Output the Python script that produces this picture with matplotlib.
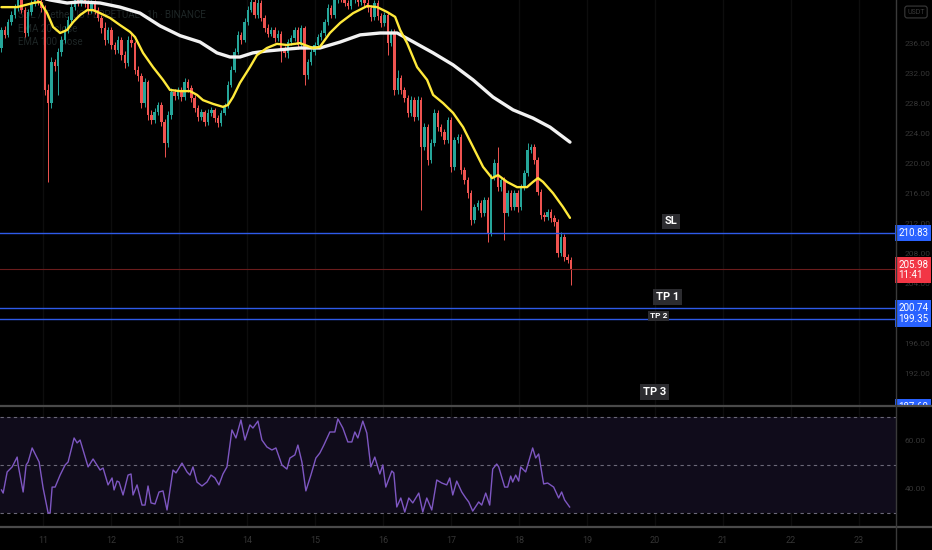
import matplotlib
matplotlib.use("Agg")
import matplotlib.pyplot as plt
import numpy as np
from matplotlib.lines import Line2D
from matplotlib.transforms import Bbox

plt.rcParams['font.family'] = ['Roboto', 'DejaVu Sans']

# ---------------- data ----------------
first_open = 235.45
closes = [
    237.85, 237.2, 238.9, 239.85, 240.8, 242.1, 240.5, 237.45, 240.25, 241.3,
    242.25, 241.6, 240.8, 229.85, 228.1, 233.6, 233.05, 234.9, 236.5, 237.85,
    239.2, 240.9, 242.1, 241.45, 242.1, 241.45, 240.5, 241.45, 240.5, 239.45,
    238.1, 236.5, 237.85, 235.85, 235.2, 236.5, 234.5, 233.45, 236.5, 236.1,
    232.5, 231.7, 228.1, 230.9, 226.5, 225.85, 226.9, 227.85, 225.6, 222.8,
    226.5, 229.6, 229.05, 229.85, 228.9, 230.9, 230.1, 228.8, 227.45, 226.25,
    226.9, 225.6, 226.8, 227.2, 226.1, 225.45, 226.8, 227.7, 230.5, 232.5,
    234.9, 237.2, 236.5, 238.9, 240.5, 241.6, 239.85, 241.45, 239.45, 238.1,
    237.3, 237.85, 236.8, 237.3, 235.2, 234.8, 236.25, 236.8, 237.85, 235.85,
    238.1, 231.85, 233.6, 234.9, 235.85, 236.9, 237.45, 238.9, 240.8, 239.85,
    241.85, 242.5, 242.1, 241.45, 241.05, 241.85, 242.4, 241.6, 242.25, 241.45,
    240.8, 239.6, 241.45, 239.7, 238.8, 239.85, 236.1, 237.6, 229.85, 231.45,
    229.85, 228.8, 226.8, 228.5, 226.25, 228.5, 222.25, 224.9, 220.5, 222.8,
    226.8, 224.9, 224.25, 223.2, 225.85, 219.6, 223.2, 223.6, 219.2, 217.85,
    216.1, 212.5, 214.25, 214.8, 213.45, 215.2, 210.8, 218.25, 220.1, 216.9,
    217.85, 213.45, 216.1, 214.25, 216.1, 214.25, 216.9, 218.8, 221.85, 222.25,
    220.5, 216.25, 213.2, 212.9, 213.6, 212.8, 212.25, 208.1, 210.25, 207.6,
    207.2, 205.98]
highs = [
    238.3, 238.4, 239.3, 240.4, 241.3, 242.6, 242.5, 240.9, 240.7, 241.8,
    242.8, 242.7, 242.0, 241.2, 230.6, 234.2, 234.0, 235.4, 237.0, 238.4,
    239.7, 241.4, 242.6, 242.7, 242.6, 242.5, 241.9, 241.9, 241.8, 240.9,
    239.8, 238.9, 238.3, 238.2, 236.3, 237.0, 236.9, 235.0, 237.0, 237.4,
    236.4, 233.0, 232.1, 231.4, 231.2, 227.2, 227.4, 228.3, 228.2, 226.0,
    227.0, 230.1, 230.0, 230.3, 230.2, 231.5, 231.3, 230.5, 229.2, 227.8,
    227.3, 227.2, 227.3, 227.6, 227.5, 226.5, 227.2, 228.1, 231.0, 233.0,
    235.4, 237.7, 237.6, 239.4, 241.0, 242.3, 242.9, 242.3, 241.8, 239.8,
    238.6, 238.3, 238.2, 237.8, 237.7, 235.7, 236.7, 237.2, 238.3, 238.2,
    238.5, 238.4, 234.0, 235.3, 236.3, 237.3, 237.9, 239.3, 241.3, 241.2,
    242.4, 243.0, 242.9, 242.5, 241.9, 242.3, 242.9, 242.8, 242.7, 242.6,
    242.2, 241.2, 241.9, 241.8, 240.1, 240.3, 240.2, 238.0, 238.0, 232.5,
    231.9, 230.3, 229.2, 229.0, 228.9, 229.0, 228.9, 225.4, 225.3, 223.3,
    227.3, 227.2, 225.3, 224.6, 226.3, 226.2, 223.6, 224.0, 224.0, 219.6,
    218.3, 216.5, 214.7, 215.2, 215.2, 215.6, 215.6, 218.7, 220.6, 222.25,
    218.3, 218.2, 216.5, 216.5, 216.5, 216.5, 217.3, 219.2, 222.8, 222.6,
    222.6, 220.9, 216.6, 213.6, 214.0, 214.0, 213.2, 212.6, 210.9, 210.6,
    208.0, 207.6]
lows = [
    234.9, 236.8, 236.9, 238.5, 239.5, 240.4, 240.1, 236.9, 237.0, 239.9,
    241.0, 241.2, 240.3, 229.2, 217.6, 227.5, 232.4, 229.2, 234.4, 236.1,
    237.5, 238.8, 240.5, 241.0, 241.1, 240.9, 240.0, 240.1, 240.0, 239.0,
    237.5, 235.9, 236.1, 235.3, 234.6, 234.8, 233.9, 232.8, 233.0, 235.6,
    232.0, 231.1, 227.4, 227.6, 225.9, 225.3, 225.4, 226.5, 225.0, 220.9,
    222.3, 226.0, 228.5, 228.7, 228.4, 228.5, 229.6, 228.3, 226.9, 225.7,
    225.8, 225.0, 225.2, 226.4, 225.6, 224.9, 225.1, 226.5, 227.4, 230.2,
    232.2, 234.6, 236.0, 236.2, 238.5, 240.2, 239.4, 239.5, 239.0, 237.6,
    236.9, 237.0, 236.3, 236.4, 233.6, 234.2, 234.1, 235.9, 236.4, 235.3,
    235.4, 230.5, 231.3, 233.2, 234.5, 235.5, 236.5, 237.1, 238.5, 239.4,
    239.5, 241.4, 241.6, 241.0, 240.6, 240.7, 241.5, 241.1, 241.2, 241.0,
    240.3, 239.1, 239.2, 239.2, 238.3, 238.4, 234.5, 235.7, 229.2, 229.3,
    229.3, 228.2, 226.2, 226.4, 225.7, 225.9, 213.85, 221.8, 219.9, 220.1,
    222.4, 224.4, 223.7, 222.6, 222.8, 218.9, 219.2, 222.8, 218.6, 217.3,
    215.5, 211.9, 212.1, 213.8, 212.9, 213.0, 209.6, 210.4, 217.9, 216.4,
    216.4, 209.85, 213.0, 213.8, 213.8, 213.6, 213.9, 216.5, 218.4, 221.4,
    220.0, 215.8, 212.7, 212.4, 212.5, 212.3, 211.7, 207.6, 207.7, 207.1,
    206.8, 203.85]

ema_fast_x = [0, 4.7, 9.5, 11.6, 13.7, 15.5, 17.6, 19.7, 21.5, 23.6, 25.7, 27.5, 29.6, 32.6,
              35.6, 38.6, 40.1, 42.5, 45.5, 48.5, 50.6, 53.6, 56.6, 58.7, 60.5, 63.5, 66.5,
              68.0, 69.5, 71.6, 74.6, 76.7, 79.7, 82.7, 85.7, 89.6, 93.5, 95.6, 98.6, 101.7,
              105.6, 109.8, 112.8, 115.8, 118.2, 119.7, 121.8, 124.8, 127.8, 129.6, 132.6,
              135.6, 138.6, 141.6, 144.6, 147.3, 149.1, 151.8, 154.8, 157.8, 159.6, 161.1,
              162.6, 165.6, 168.6, 170.7]
ema_fast_y = [240.9, 240.9, 241.45, 241.6, 240.1, 238.25, 237.45, 237.85, 238.9, 239.85, 240.5,
              240.5, 240.1, 239.45, 238.5, 237.6, 236.9, 234.8, 232.9, 231.2, 229.85, 229.7,
              229.7, 229.2, 228.5, 228.0, 227.6, 227.85, 228.9, 230.8, 232.9, 234.5, 235.45,
              236.0, 235.85, 236.1, 235.45, 235.6, 237.45, 238.8, 240.1, 241.05, 240.9, 240.25,
              239.6, 237.85, 236.1, 232.9, 231.2, 229.2, 228.1, 226.8, 224.9, 222.25, 219.6,
              218.1, 218.5, 217.6, 216.9, 216.9, 217.6, 218.1, 217.6, 216.1, 214.25, 212.8]

ema_slow_x = [0, 7.1, 14.6, 19.7, 23.6, 29.6, 35.6, 41.6, 47.6, 53.6, 59.6, 64.7, 68.6, 71.6,
              75.5, 79.7, 85.7, 89.6, 95.6, 101.7, 107.7, 113.7, 118.8, 122.7, 129.6, 135.6,
              141.6, 147.6, 153.6, 159.6, 164.7, 170.7]
ema_slow_y = [243.85, 242.65, 241.85, 241.45, 241.6, 241.45, 240.9, 240.1, 238.4, 237.1, 236.25,
              234.8, 234.25, 234.25, 234.8, 235.05, 235.3, 235.45, 235.45, 236.25, 237.2, 237.45,
              237.45, 236.5, 234.8, 233.2, 231.2, 228.9, 227.2, 226.1, 224.9, 222.9]

rsi_x = [0, 0.5, 1.7, 3.2, 4.7, 5.0, 6.5, 7.4, 8.0, 9.2,
         10.7, 11.3, 12.5, 14.0, 14.6, 15.2, 16.1, 17.6, 19.1, 20.0,
         21.8, 22.7, 23.6, 26.0, 27.5, 29.6, 30.5, 32.0, 33.2, 33.8,
         34.7, 35.3, 36.5, 38.0, 38.9, 39.5, 40.7, 42.2, 43.1, 44.0,
         44.9, 46.1, 47.3, 48.5, 49.7, 51.5, 52.4, 54.2, 55.7, 56.6,
         57.5, 58.7, 60.2, 61.7, 62.9, 64.1, 65.3, 66.5, 67.7, 69.2,
         70.4, 71.9, 73.1, 74.6, 75.5, 77.0, 78.2, 79.7, 81.2, 82.4,
         84.2, 85.7, 86.6, 88.1, 89.0, 90.2, 91.4, 92.9, 94.4, 95.6,
         96.8, 98.6, 100.1, 101.0, 102.5, 104.0, 105.2, 106.1, 107.0, 108.5,
         109.7, 110.9, 112.1, 113.6, 114.5, 115.4, 117.2, 117.8, 118.7, 119.9,
         121.1, 122.3, 123.5, 125.3, 126.5, 127.7, 129.2, 130.7, 132.2, 133.7,
         134.6, 135.5, 136.7, 138.2, 139.4, 140.3, 141.5, 143.3, 144.2, 145.4,
         146.6, 147.5, 148.7, 149.3, 151.1, 152.0, 152.9, 153.5, 154.4, 155.3,
         155.9, 157.4, 159.5, 160.4, 161.3, 162.8, 164.0, 165.8, 167.3, 168.2,
         169.1, 170.6]
rsi_v = [39.6, 38.3, 47.1, 49.2, 53.3, 50.0, 38.75, 50.0, 51.25, 57.1,
         52.9, 51.25, 40.4, 30.0, 30.0, 40.8, 40.8, 45.8, 50.0, 51.25,
         61.25, 59.2, 60.4, 49.2, 52.5, 47.9, 48.75, 41.7, 44.6, 39.6,
         43.3, 42.9, 37.5, 45.8, 46.25, 37.5, 41.7, 33.3, 33.3, 41.25,
         34.2, 33.75, 38.75, 39.2, 31.25, 47.9, 46.7, 50.8, 47.1, 45.8,
         49.2, 42.9, 41.25, 42.9, 45.8, 44.6, 41.7, 46.25, 49.2, 64.6,
         61.25, 68.75, 60.4, 66.7, 65.4, 68.3, 60.4, 57.5, 56.25, 57.1,
         50.0, 48.3, 52.9, 54.2, 58.3, 51.25, 39.2, 45.8, 52.9, 55.0,
         58.3, 63.75, 63.75, 69.2, 65.4, 59.6, 59.6, 63.75, 61.25, 68.3,
         63.3, 49.2, 53.3, 46.25, 50.0, 40.8, 47.5, 46.7, 32.5, 36.25,
         30.4, 36.25, 34.2, 38.3, 30.4, 36.25, 31.25, 43.75, 42.5, 41.7,
         44.6, 37.5, 43.3, 38.75, 36.25, 34.6, 30.8, 34.6, 33.3, 38.3,
         33.3, 48.3, 50.4, 49.2, 40.8, 40.8, 45.4, 42.9, 45.8, 43.3,
         49.2, 47.1, 57.1, 52.9, 54.6, 42.1, 42.5, 40.8, 36.25, 38.75,
         35.4, 32.5]

sl_price = 210.83
last_price = 205.98
tp1_price = 200.74
tp2_price = 199.35
tp3_price = 187.6
countdown = "11:41"

day_labels = ["11", "12", "13", "14", "15", "16", "17", "18", "19", "20", "21", "22", "23"]
price_ticks = [192, 196, 200, 204, 208, 212, 216, 220, 224, 228, 232, 236]
rsi_ticks = [40, 60]

# ---------------- layout ----------------
W, H = 932, 550
fig = plt.figure(figsize=(W / 100, H / 100), dpi=100, facecolor='#000000')

def fy(py):
    return 1 - py / H

ax = fig.add_axes([0, fy(405), 896 / W, 405 / H])
axr = fig.add_axes([0, fy(526), 896 / W, 120 / H])
for a in (ax, axr):
    a.set_facecolor('#000000')
    for s in a.spines.values():
        s.set_visible(False)

xlim = (-0.45, 268.6)
ax.set_xlim(*xlim)
axr.set_xlim(*xlim)
ax.set_ylim(187.85, 241.85)
axr.set_ylim(24.58, 74.58)

# day positions (candle-index units: 1 candle = 1 hour)
day_pos = [12.46 + 20.42 * k for k in range(len(day_labels))]
for a in (ax, axr):
    for p in day_pos:
        a.axvline(p, color='#0d0d0d', lw=1.0, zorder=0)

# ---------------- candles ----------------
c = np.array(closes)
o = np.array([first_open] + closes[:-1])
idx = np.arange(len(c))
cols = np.where(c >= o, '#26a69a', '#ef5350')
ax.vlines(idx, lows, highs, colors=cols, lw=0.7, zorder=2)
ax.bar(idx, np.maximum(np.abs(c - o), 0.12), bottom=np.minimum(o, c), width=0.72,
       color=cols, linewidth=0, zorder=2)

# moving averages
ax.plot(ema_slow_x, ema_slow_y, color='#f2f2f2', lw=2.4, zorder=4, solid_capstyle='round')
ax.plot(ema_fast_x, ema_fast_y, color='#ffe93b', lw=1.7, zorder=5, solid_capstyle='round')

# levels
for lv in (sl_price, tp1_price, tp2_price, tp3_price):
    ax.axhline(lv, color='#2e5be8', lw=1.0, zorder=3)
ax.axhline(last_price, color='#6a1c1c', lw=0.8, zorder=3)

# legend (dim)
legend_lines = ["SOL / TetherUS PERPETUAL · 1h · BINANCE", "EMA 20 close", "EMA 100 close"]
for k, t in enumerate(legend_lines):
    ax.text(5, 241.85 - (15 + 13.5 * k) / 7.5, t, color='#1e2626', fontsize=7,
            va='center', ha='left', zorder=1, transform=ax.transData)

# SL / TP tags
tag = dict(boxstyle='square,pad=0.25', fc='#2c2c30', ec='none')
ax.annotate('SL', xy=(201.1, sl_price), xytext=(0, 4.5), textcoords='offset points',
            ha='center', va='bottom', color='white', fontsize=8, fontweight='bold',
            bbox=tag, zorder=7, annotation_clip=False)
ax.annotate('TP 1', xy=(199.9, tp1_price), xytext=(0, 4.5), textcoords='offset points',
            ha='center', va='bottom', color='white', fontsize=8, fontweight='bold',
            bbox=tag, zorder=7, annotation_clip=False)
ax.annotate('TP 2', xy=(197.4, tp2_price), xytext=(0, 2.0), textcoords='offset points',
            ha='center', va='center', color='white', fontsize=6, fontweight='bold',
            bbox=dict(boxstyle='square,pad=0.2', fc='#2c2c30', ec='none'),
            zorder=7, annotation_clip=False)
ax.annotate('TP 3', xy=(196.2, tp3_price), xytext=(0, 7.0), textcoords='offset points',
            ha='center', va='bottom', color='white', fontsize=8, fontweight='bold',
            bbox=tag, zorder=7, annotation_clip=False)

# right price-scale
ax.yaxis.tick_right()
ax.set_yticks(price_ticks)
ax.set_yticklabels([f'{v:.2f}' for v in price_ticks])
ax.tick_params(axis='y', length=0, pad=6, labelsize=6, labelcolor='#353535')
ax.tick_params(axis='x', length=0, labelbottom=False)
ax.set_xticks(day_pos)

def price_box(text, price, fc):
    return ax.annotate(text, xy=(1, price), xycoords=('axes fraction', 'data'),
                       xytext=(1.6, 0), textcoords='offset points', ha='left', va='center',
                       color='white', fontsize=7, linespacing=1.05,
                       bbox=dict(boxstyle='square,pad=0.3', fc=fc, ec='none'),
                       zorder=10, annotation_clip=False)

price_box(f'{sl_price:.2f}', sl_price, '#2962ff')
price_box(f'{last_price:.2f}\n{countdown}', last_price - 0.1, '#f23645')
price_box(f'{tp1_price:.2f}\n{tp2_price:.2f}', (tp1_price + tp2_price) / 2, '#2962ff')
b3 = price_box(f'{tp3_price:.2f}', tp3_price, '#2962ff')
b3.set_clip_on(True)
b3.set_clip_box(Bbox([[880, H - 405], [W, H]]))

# ---------------- RSI ----------------
axr.axhspan(30, 70, color='#100c1b', zorder=0, lw=0)
for lv in (70, 50, 30):
    axr.axhline(lv, color='#6b6878', lw=0.8, ls=(0, (3, 3)), zorder=1)
axr.plot(rsi_x, rsi_v, color='#7e57c2', lw=1.0, zorder=3)
axr.yaxis.tick_right()
axr.set_yticks(rsi_ticks)
axr.set_yticklabels([f'{v:.2f}' for v in rsi_ticks])
axr.tick_params(axis='y', length=0, pad=6, labelsize=6, labelcolor='#353535')
axr.set_xticks(day_pos)
axr.set_xticklabels(day_labels)
axr.tick_params(axis='x', length=0, pad=7, labelsize=6.5, labelcolor='#353535')

# separators
fig.add_artist(Line2D([0, 1], [fy(405.5)] * 2, transform=fig.transFigure, color='#4a4a4a', lw=1.6))
fig.add_artist(Line2D([0, 1], [fy(526.5)] * 2, transform=fig.transFigure, color='#4a4a4a', lw=1.6))
fig.add_artist(Line2D([896 / W] * 2, [0, 1], transform=fig.transFigure, color='#3a3a3a', lw=1.0))

# top-right currency button
fig.text(916 / W, fy(12), 'USDT', ha='center', va='center', fontsize=5, color='#3a3a3a',
         bbox=dict(boxstyle='round,pad=0.35', fc='none', ec='#3a3a3a', lw=0.8))

fig.savefig('out.png', dpi=100, facecolor=fig.get_facecolor())
